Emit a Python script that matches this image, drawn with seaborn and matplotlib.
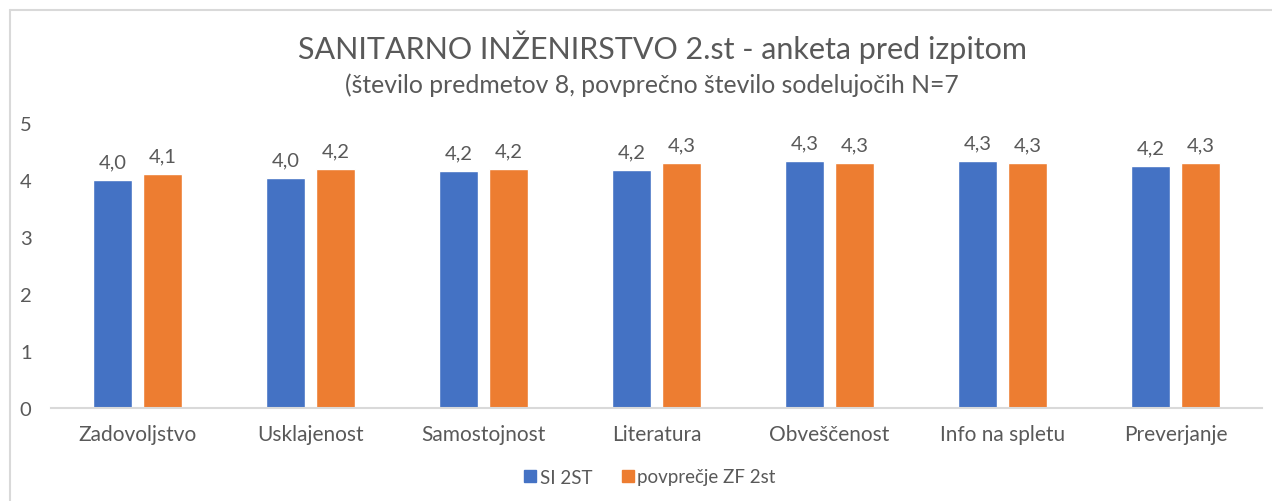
import matplotlib
matplotlib.use("Agg")
import matplotlib.pyplot as plt
import seaborn as sns
import pandas as pd
from matplotlib.lines import Line2D

categories = ["Zadovoljstvo", "Usklajenost", "Samostojnost", "Literatura",
              "Obveščenost", "Info na spletu", "Preverjanje"]
series_names = ["SI 2ST", "povprečje ZF 2st"]
si_2st = [4.00, 4.04, 4.16, 4.17, 4.34, 4.34, 4.24]
povprecje_zf = [4.10, 4.20, 4.20, 4.30, 4.30, 4.30, 4.30]
yticks = [0, 1, 2, 3, 4, 5]
title = "SANITARNO INŽENIRSTVO 2.st - anketa pred izpitom"
subtitle = "(število predmetov 8, povprečno število sodelujočih N=7"

colors = ["#4472C4", "#ED7D31"]
text_color = "#595959"

sns.set_theme(style="white")
plt.rcParams["font.family"] = ["Lato", "DejaVu Sans"]
plt.rcParams["font.weight"] = "normal"

df = pd.DataFrame({
    "cat": categories * 2,
    "val": si_2st + povprecje_zf,
    "series": [series_names[0]] * len(categories) + [series_names[1]] * len(categories),
})

W, H = 1272, 502
fig = plt.figure(figsize=(W / 100, H / 100), dpi=100)
ax = fig.add_axes([51 / W, 1 - 409.3 / H, (1262 - 51) / W, (409.3 - 124) / H])

sns.barplot(data=df, x="cat", y="val", hue="series", palette=colors,
            width=0.58, gap=0.225, saturation=1, ax=ax, legend=False,
            errorbar=None)

ax.set_xlim(-0.5, len(categories) - 0.5)
ax.set_ylim(0, 5)
ax.set_yticks(yticks)
ax.set_xlabel("")
ax.set_ylabel("")
for s in ["top", "right", "left"]:
    ax.spines[s].set_visible(False)
ax.spines["bottom"].set_color("#d9d9d9")
ax.spines["bottom"].set_linewidth(1.5)
ax.tick_params(axis="y", length=0, pad=14, labelsize=14.5, labelcolor=text_color)
ax.tick_params(axis="x", length=0, pad=11, labelsize=15, labelcolor=text_color)

for cont, vals in zip(ax.containers, [si_2st, povprecje_zf]):
    labels = [f"{v:.1f}".replace(".", ",") for v in vals]
    ax.bar_label(cont, labels=labels, padding=7, fontsize=14.5, color=text_color)

fig.text(662 / W, 1 - 47 / H, title, ha="center", va="center", fontsize=22, color=text_color)
fig.text(652 / W, 1 - 85 / H, subtitle, ha="center", va="center", fontsize=17.8, color=text_color)

handles = [Line2D([], [], marker="s", linestyle="", markersize=8.5,
                  markerfacecolor=c, markeredgecolor=c) for c in colors]
fig.legend(handles, series_names, loc="center", bbox_to_anchor=(649 / W, 1 - 478 / H),
           ncol=2, frameon=False, fontsize=13.5, labelcolor=text_color,
           handletextpad=0.1, columnspacing=1.5, handlelength=0.8)

# chart area border
fig.add_artist(Line2D([10 / W, 1], [1 - 11 / H, 1 - 11 / H], color="#d9d9d9", lw=1.5,
                      transform=fig.transFigure))
fig.add_artist(Line2D([10 / W, 10 / W], [0, 1 - 11 / H], color="#d9d9d9", lw=1.5,
                      transform=fig.transFigure))

fig.savefig("out.png", dpi=100, facecolor="white")
